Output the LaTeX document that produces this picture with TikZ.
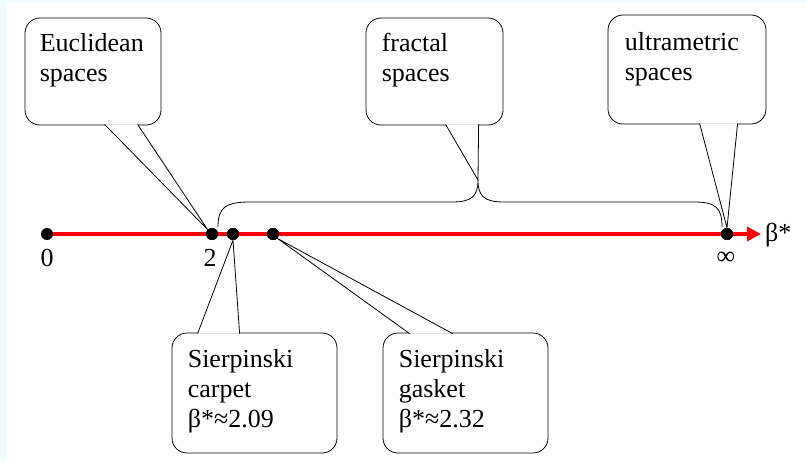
\documentclass[tikz,border=0pt]{standalone}
\usepackage{fontspec}
\setmainfont{Liberation Serif}
\newfontfamily\timesfont{Liberation Serif}
\usetikzlibrary{arrows.meta}
\usetikzlibrary{positioning}
\usetikzlibrary{calc}
\definecolor{pagecyan}{RGB}{240,252,255}
\definecolor{axisred}{RGB}{255,0,0}
\tikzset{%
  pointdot/.style={circle, fill=black, inner sep=0pt, minimum size=12pt},
  bubble/.style={draw=black, fill=white, rounded corners=15pt, line width=0.8pt, inner sep=0pt},
  bubbletext/.style={anchor=north west, align=left, inner sep=0pt, font=\timesfont\fontsize{26}{30}\selectfont},
  tail/.style={draw=black, fill=white, line width=0.8pt, line join=miter},
  numlabel/.style={inner sep=0pt, font=\timesfont\fontsize{26}{30}\selectfont}
}

\begin{document}
\begin{tikzpicture}[x=1pt, y=-1pt]

  % page background and margins
  \fill[pagecyan] (0,0) rectangle (805,461);
  \fill[white] (7,3) rectangle (805,461);
  \useasboundingbox (0,0) rectangle (805,461);

  % set up basic coordinates on the axis
  \coordinate (start) at (47,234);
  \coordinate (arrowend) at (761,234);
  \coordinate (bracetip) at (478,180);

  % red axis
  \draw[axisred, line width=4pt, -{Triangle[length=14pt,width=14pt]}] (start) -- (arrowend);

  % points on the axis
  \node[pointdot] (d0) at (47,234) {};
  \node[pointdot] (d2) at (212,234) {};
  \node[pointdot] (d209) at (233,234) {};
  \node[pointdot] (d232) at (273,234) {};
  \node[pointdot] (dinf) at (727,234) {};

  % axis labels
  \node[numlabel, below=9pt of d0] (l0) {0};
  \node[numlabel, below=9pt of d2, xshift=-2pt] (l2) {2};
  \node[numlabel, below=12pt of dinf, xshift=-1pt] (linf) {∞};
  \node[numlabel, anchor=west] (lbeta) at (765,235) {β*};

  % brace over the fractal range
  \draw[line width=0.8pt] (218,227) .. controls (218,207) and (226,202) .. (250,202) -- (452,202)
    .. controls (472,202) and (478,196) .. (bracetip)
    .. controls (478,196) and (484,202) .. (504,202) -- (694,202)
    .. controls (716,202) and (722,208) .. (722,227);

  % upper callouts
  \node[bubble, minimum width=136pt, minimum height=107pt] (euc) at (93,71.5) {};
  \node[bubble, minimum width=137pt, minimum height=107pt] (frac) at (434.5,71.5) {};
  \node[bubble, minimum width=158pt, minimum height=109pt] (ultra) at (687,69.5) {};
  \path[tail] ($(euc.south west)+(80pt,1pt)$) -- (d2.north west) -- ($(euc.south west)+(113pt,1pt)$);
  \path[tail] ($(frac.south west)+(80pt,1pt)$) -- (bracetip) -- ($(frac.south west)+(113pt,1pt)$);
  \path[tail] ($(ultra.south west)+(92pt,1pt)$) -- (dinf.north) -- ($(ultra.south west)+(130pt,1pt)$);
  \node[bubbletext] (euctext) at ($(euc.north west)+(15pt,-16pt)$) {Euclidean\\spaces};
  \node[bubbletext] (fractext) at ($(frac.north west)+(16pt,-15pt)$) {fractal\\spaces};
  \node[bubbletext] (ultratext) at ($(ultra.north west)+(17pt,-18pt)$) {ultrametric\\spaces};

  % lower callouts
  \node[bubble, minimum width=165pt, minimum height=120pt] (carpet) at (254.5,393) {};
  \node[bubble, minimum width=165pt, minimum height=120pt] (gasket) at (465.5,393) {};
  \path[tail] ($(carpet.north west)+(26pt,-1pt)$) -- (d209.south) -- ($(carpet.north west)+(68pt,-1pt)$);
  \path[tail] ($(gasket.north west)+(27pt,-1pt)$) -- (d232.south east) -- ($(gasket.north west)+(70pt,-1pt)$);
  \node[bubbletext] (carpettext) at ($(carpet.north west)+(16pt,-17pt)$) {Sierpinski\\carpet\\β*≈2.09};
  \node[bubbletext] (gaskettext) at ($(gasket.north west)+(16pt,-17pt)$) {Sierpinski\\gasket\\β*≈2.32};

  % redraw the points over the tails
  \foreach \p in {d2,d209,d232,dinf}
    \fill (\p) circle (6pt);

\end{tikzpicture}
\end{document}
